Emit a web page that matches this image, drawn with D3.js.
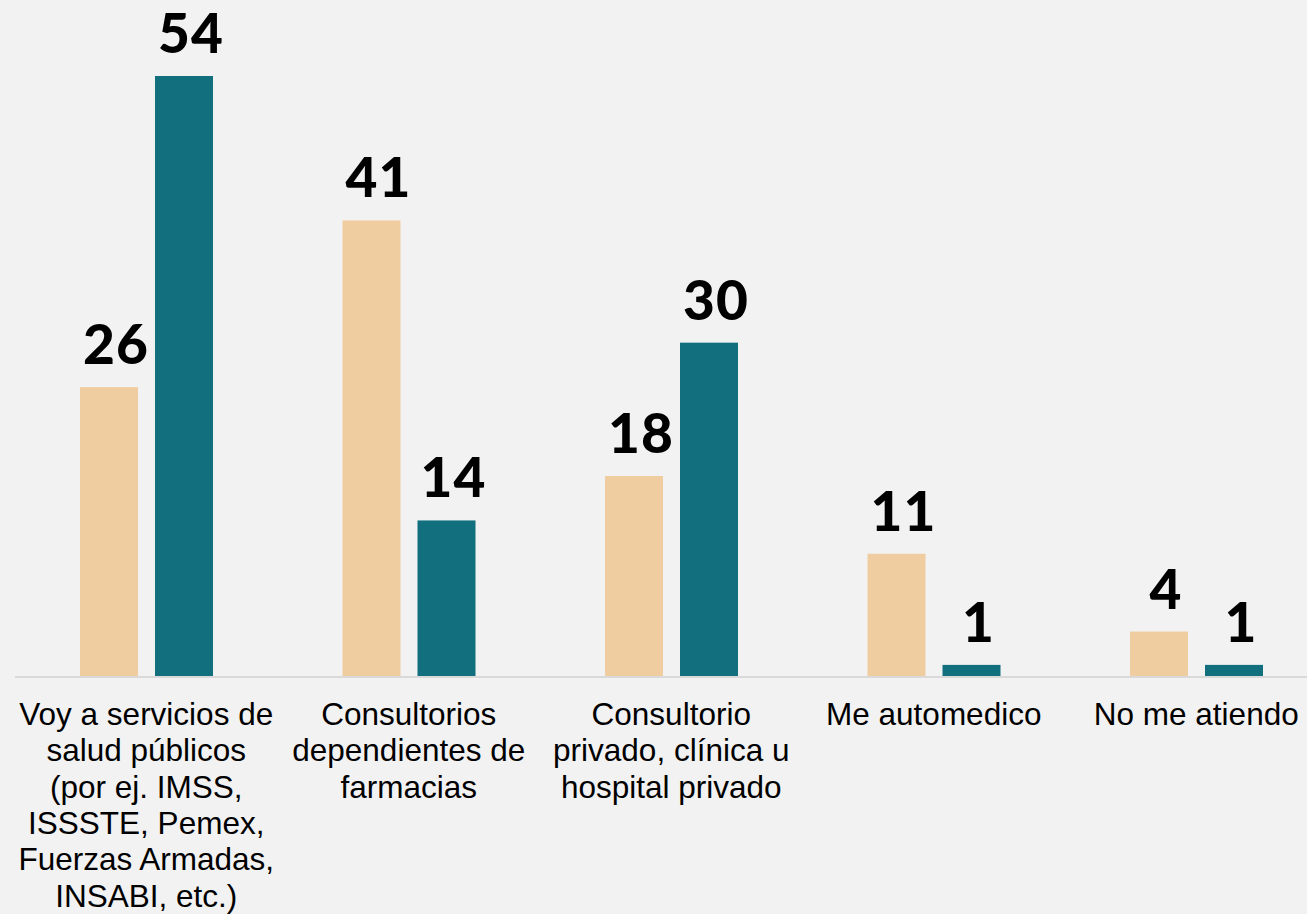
<!DOCTYPE html>
<html><head><meta charset="utf-8">
<script src="https://cdn.jsdelivr.net/npm/d3@7"></script>
<style>html,body{margin:0;padding:0;background:#f2f2f2;}svg{display:block;}</style>
</head><body>
<div id="chart"></div>
<script>
const categories = [
  "Voy a servicios de\nsalud públicos\n(por ej. IMSS,\nISSSTE, Pemex,\nFuerzas Armadas,\nINSABI, etc.)",
  "Consultorios\ndependientes de\nfarmacias",
  "Consultorio\nprivado, clínica u\nhospital privado",
  "Me automedico",
  "No me atiendo"
];
const seriesNames = ["Serie 1", "Serie 2"];
const series1 = [26, 41, 18, 11, 4];
const series2 = [54, 14, 30, 1, 1];
const colors = ["#f0cda0", "#126f7e"];

const W = 1307, H = 914;
const svg = d3.select("#chart").append("svg").attr("width", W).attr("height", H);
svg.append("rect").attr("width", W).attr("height", H).attr("fill", "#f2f2f2");

const baseY = 676;
const x0 = d3.scaleBand().domain(categories).range([15, 1327.5]).paddingInner(0).paddingOuter(0);
const x1 = d3.scaleBand().domain(seriesNames).range([65, 198]).paddingInner(17 / 75);
const y = d3.scaleLinear().domain([0, 54]).range([baseY, 76]);

const data = categories.map((c, i) => ({c, vals: [series1[i], series2[i]]}));

const g = svg.selectAll("g.cat").data(data).enter().append("g")
  .attr("transform", d => `translate(${x0(d.c)},0)`);

g.selectAll("rect").data(d => d.vals.map((v, j) => ({v, s: seriesNames[j], j})))
  .enter().append("rect")
  .attr("x", d => x1(d.s)).attr("width", x1.bandwidth())
  .attr("y", d => y(d.v)).attr("height", d => baseY - y(d.v))
  .attr("fill", d => colors[d.j]);

g.selectAll("text.val").data(d => d.vals.map((v, j) => ({v, s: seriesNames[j], j})))
  .enter().append("text").attr("class", "val")
  .attr("x", d => x1(d.s) + x1.bandwidth() / 2 + 7)
  .attr("y", d => y(d.v) - 23)
  .attr("text-anchor", "middle")
  .attr("font-family", "Lato, 'Open Sans', sans-serif")
  .attr("font-weight", 900)
  .attr("font-size", 55)
  .attr("letter-spacing", 1)
  .attr("fill", "#000")
  .text(d => d.v);

svg.append("line").attr("x1", 15).attr("x2", W).attr("y1", baseY + 1).attr("y2", baseY + 1)
  .attr("stroke", "#d9d9d9").attr("stroke-width", 2);

g.append("text")
  .attr("text-anchor", "middle")
  .attr("font-family", "'Liberation Sans', Arial, sans-serif")
  .attr("font-size", 31.5)
  .attr("fill", "#000")
  .each(function(d) {
    const lines = d.c.split("\n");
    d3.select(this).selectAll("tspan").data(lines).enter().append("tspan")
      .attr("x", x0.bandwidth() / 2)
      .attr("y", (l, i) => 725 + i * 36.3)
      .text(l => l);
  });
</script>
</body></html>
